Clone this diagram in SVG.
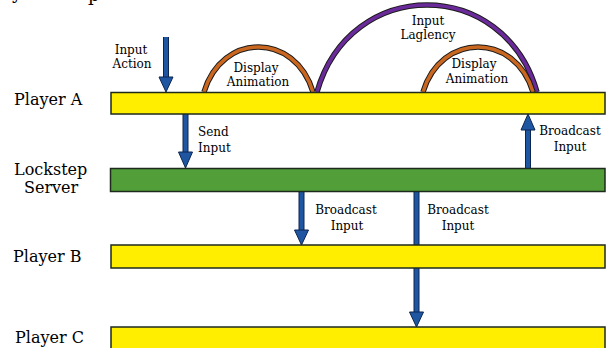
<svg xmlns="http://www.w3.org/2000/svg" width="606" height="348" viewBox="0 0 606 348">
<defs>
<style>
.lbl{font-family:"DejaVu Serif","Liberation Serif",serif;font-size:12px;fill:#000}
.row{font-family:"DejaVu Serif","Liberation Serif",serif;font-size:16px;fill:#000}
.bar{fill:#ffee00;stroke:#1e2a1e;stroke-width:1.5}
.srv{fill:#529e38;stroke:#1e2a1e;stroke-width:1.5}
.shaft-o{stroke:#0c2550;stroke-width:6;fill:none}
.shaft{stroke:#1f56a2;stroke-width:4;fill:none}
.head{fill:#1f56a2;stroke:#0c2550;stroke-width:1}
.arc-o{fill:none;stroke:#1a1a1a;stroke-width:5.5}
.arc-or{fill:none;stroke:#c9661f;stroke-width:3.5}
.arc-pu{fill:none;stroke:#6a2a9a;stroke-width:3.5}
</style>
</defs>
<text class="row" x="12" y="-1" style="font-size:18px">y</text>
<text class="row" x="88" y="1" style="font-size:18px">p</text>
<g id="connectors">
<g id="arr-input-action">
<line class="shaft-o" x1="166" y1="37" x2="166" y2="80"/>
<line class="shaft" x1="166" y1="37" x2="166" y2="80"/>
<path class="head" d="M159,77 L173,77 L166,92 Z"/>
</g>
<g id="arr-send">
<line class="shaft-o" x1="185.5" y1="114" x2="185.5" y2="155"/>
<line class="shaft" x1="185.5" y1="114" x2="185.5" y2="155"/>
<path class="head" d="M178.5,152 L192.5,152 L185.5,168 Z"/>
</g>
<g id="arr-bcast-a">
<line class="shaft-o" x1="528" y1="168" x2="528" y2="127"/>
<line class="shaft" x1="528" y1="168" x2="528" y2="127"/>
<path class="head" d="M521,130 L535,130 L528,114 Z"/>
</g>
<g id="arr-bcast-b">
<line class="shaft-o" x1="301.5" y1="191" x2="301.5" y2="233"/>
<line class="shaft" x1="301.5" y1="191" x2="301.5" y2="233"/>
<path class="head" d="M294.5,230 L308.5,230 L301.5,245 Z"/>
</g>
<g id="arr-bcast-c">
<line class="shaft-o" x1="416.5" y1="191" x2="416.5" y2="315"/>
<line class="shaft" x1="416.5" y1="191" x2="416.5" y2="315"/>
<path class="head" d="M409.5,312 L423.5,312 L416.5,327 Z"/>
</g>
</g>
<g id="arcs">
<g id="arc-display-1">
<path class="arc-o" d="M204,92 C222,32 295,32 313,92"/>
<path class="arc-or" d="M204,92 C222,32 295,32 313,92"/>
</g>
<g id="arc-latency">
<path class="arc-o" d="M317,92 C350,-24 504,-24 537,92"/>
<path class="arc-pu" d="M317,92 C350,-24 504,-24 537,92"/>
</g>
<g id="arc-display-2">
<path class="arc-o" d="M423,92 C441,32 515,32 533,92"/>
<path class="arc-or" d="M423,92 C441,32 515,32 533,92"/>
</g>
</g>
<g id="player-a">
<rect class="bar" x="111" y="92.5" width="494" height="21.5"/>
<text class="row" x="14" y="105">Player A</text>
</g>
<g id="lockstep-server">
<rect class="srv" x="110.5" y="168.5" width="494.5" height="23"/>
<text class="row" x="14" y="175">Lockstep</text>
<text class="row" x="24" y="193">Server</text>
</g>
<g id="player-b">
<rect class="bar" x="111" y="245" width="494" height="23"/>
<text class="row" x="13" y="262">Player B</text>
</g>
<g id="player-c">
<rect class="bar" x="111" y="327" width="494" height="23"/>
<text class="row" x="15" y="343">Player C</text>
</g>
<g id="labels">
<text class="lbl" text-anchor="middle" x="131" y="54">Input</text>
<text class="lbl" text-anchor="middle" x="132" y="68">Action</text>
<text class="lbl" text-anchor="middle" x="256" y="72">Display</text>
<text class="lbl" text-anchor="middle" x="258" y="86">Animation</text>
<text class="lbl" text-anchor="middle" x="428" y="25">Input</text>
<text class="lbl" text-anchor="middle" x="428" y="39">Laglency</text>
<text class="lbl" text-anchor="middle" x="474" y="68">Display</text>
<text class="lbl" text-anchor="middle" x="477" y="83">Animation</text>
<text class="lbl" x="198" y="136">Send</text>
<text class="lbl" x="198" y="152">Input</text>
<text class="lbl" text-anchor="middle" x="570" y="135">Broadcast</text>
<text class="lbl" text-anchor="middle" x="570" y="151">Input</text>
<text class="lbl" text-anchor="middle" x="346" y="214">Broadcast</text>
<text class="lbl" text-anchor="middle" x="347" y="230">Input</text>
<text class="lbl" text-anchor="middle" x="458" y="214">Broadcast</text>
<text class="lbl" text-anchor="middle" x="458" y="230">Input</text>
</g>
</svg>
